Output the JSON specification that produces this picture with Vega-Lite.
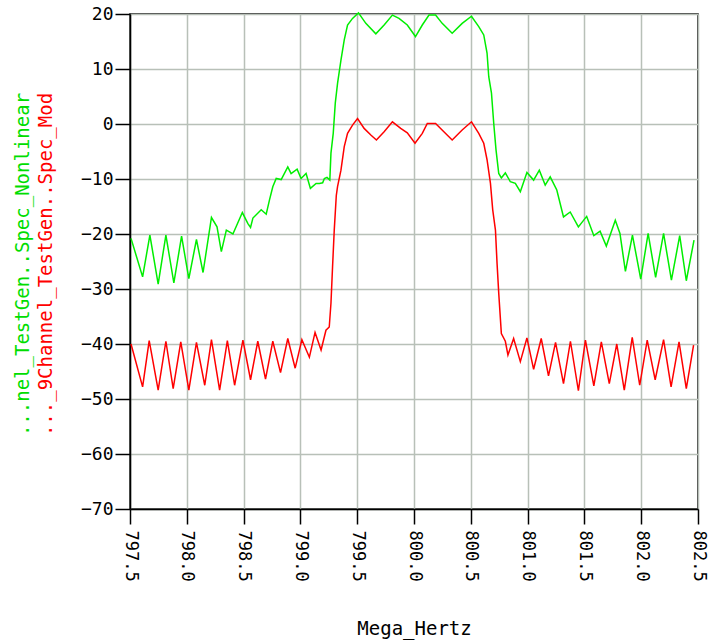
{
  "$schema": "https://vega.github.io/schema/vega-lite/v6.json",
  "width": 568,
  "height": 495,
  "autosize": {"type": "none"},
  "padding": {"left": 130, "top": 14, "right": 11, "bottom": 132},
  "background": "white",
  "config": {
    "font": "DejaVu Sans Mono",
    "view": {"stroke": "black", "strokeWidth": 1.5},
    "axis": {
      "domainColor": "black", "domainWidth": 1.5, "tickColor": "black", "tickWidth": 1.5,
      "labelColor": "black", "labelFont": "DejaVu Sans Mono", "titleFont": "DejaVu Sans Mono",
      "gridColor": "#b8c0b8", "gridWidth": 1.5, "gridOpacity": 1
    }
  },
  "data": {"values": [
    {"f": 797.509, "db": -40.0, "s": "Mod"},
    {"f": 797.611, "db": -47.8, "s": "Mod"},
    {"f": 797.669, "db": -39.4, "s": "Mod"},
    {"f": 797.748, "db": -48.4, "s": "Mod"},
    {"f": 797.816, "db": -39.5, "s": "Mod"},
    {"f": 797.880, "db": -48.1, "s": "Mod"},
    {"f": 797.947, "db": -39.6, "s": "Mod"},
    {"f": 798.018, "db": -48.4, "s": "Mod"},
    {"f": 798.085, "db": -39.7, "s": "Mod"},
    {"f": 798.158, "db": -47.5, "s": "Mod"},
    {"f": 798.217, "db": -39.2, "s": "Mod"},
    {"f": 798.289, "db": -48.4, "s": "Mod"},
    {"f": 798.357, "db": -39.4, "s": "Mod"},
    {"f": 798.421, "db": -47.5, "s": "Mod"},
    {"f": 798.494, "db": -39.3, "s": "Mod"},
    {"f": 798.561, "db": -46.5, "s": "Mod"},
    {"f": 798.625, "db": -39.5, "s": "Mod"},
    {"f": 798.693, "db": -46.4, "s": "Mod"},
    {"f": 798.757, "db": -39.5, "s": "Mod"},
    {"f": 798.825, "db": -45.2, "s": "Mod"},
    {"f": 798.889, "db": -39.0, "s": "Mod"},
    {"f": 798.954, "db": -44.4, "s": "Mod"},
    {"f": 799.013, "db": -39.2, "s": "Mod"},
    {"f": 799.079, "db": -42.4, "s": "Mod"},
    {"f": 799.129, "db": -37.9, "s": "Mod"},
    {"f": 799.182, "db": -41.1, "s": "Mod"},
    {"f": 799.225, "db": -37.5, "s": "Mod"},
    {"f": 799.254, "db": -36.9, "s": "Mod"},
    {"f": 799.269, "db": -32.6, "s": "Mod"},
    {"f": 799.283, "db": -26.0, "s": "Mod"},
    {"f": 799.298, "db": -19.3, "s": "Mod"},
    {"f": 799.316, "db": -13.0, "s": "Mod"},
    {"f": 799.327, "db": -11.4, "s": "Mod"},
    {"f": 799.357, "db": -8.4, "s": "Mod"},
    {"f": 799.386, "db": -4.1, "s": "Mod"},
    {"f": 799.415, "db": -1.7, "s": "Mod"},
    {"f": 799.459, "db": -0.2, "s": "Mod"},
    {"f": 799.503, "db": 1.0, "s": "Mod"},
    {"f": 799.561, "db": -0.8, "s": "Mod"},
    {"f": 799.620, "db": -2.0, "s": "Mod"},
    {"f": 799.669, "db": -2.9, "s": "Mod"},
    {"f": 799.737, "db": -1.4, "s": "Mod"},
    {"f": 799.810, "db": 0.4, "s": "Mod"},
    {"f": 799.883, "db": -0.8, "s": "Mod"},
    {"f": 799.941, "db": -1.6, "s": "Mod"},
    {"f": 800.009, "db": -3.5, "s": "Mod"},
    {"f": 800.073, "db": -1.7, "s": "Mod"},
    {"f": 800.117, "db": 0.1, "s": "Mod"},
    {"f": 800.190, "db": 0.1, "s": "Mod"},
    {"f": 800.263, "db": -1.4, "s": "Mod"},
    {"f": 800.336, "db": -2.9, "s": "Mod"},
    {"f": 800.424, "db": -1.1, "s": "Mod"},
    {"f": 800.506, "db": 0.4, "s": "Mod"},
    {"f": 800.570, "db": -1.7, "s": "Mod"},
    {"f": 800.614, "db": -3.5, "s": "Mod"},
    {"f": 800.643, "db": -6.5, "s": "Mod"},
    {"f": 800.673, "db": -10.8, "s": "Mod"},
    {"f": 800.693, "db": -15.6, "s": "Mod"},
    {"f": 800.717, "db": -19.3, "s": "Mod"},
    {"f": 800.731, "db": -25.3, "s": "Mod"},
    {"f": 800.746, "db": -30.8, "s": "Mod"},
    {"f": 800.769, "db": -38.1, "s": "Mod"},
    {"f": 800.804, "db": -39.5, "s": "Mod"},
    {"f": 800.827, "db": -42.0, "s": "Mod"},
    {"f": 800.877, "db": -39.0, "s": "Mod"},
    {"f": 800.936, "db": -43.2, "s": "Mod"},
    {"f": 800.994, "db": -38.9, "s": "Mod"},
    {"f": 801.053, "db": -44.6, "s": "Mod"},
    {"f": 801.120, "db": -39.0, "s": "Mod"},
    {"f": 801.184, "db": -45.8, "s": "Mod"},
    {"f": 801.246, "db": -39.7, "s": "Mod"},
    {"f": 801.316, "db": -47.2, "s": "Mod"},
    {"f": 801.377, "db": -39.5, "s": "Mod"},
    {"f": 801.447, "db": -48.5, "s": "Mod"},
    {"f": 801.509, "db": -39.3, "s": "Mod"},
    {"f": 801.583, "db": -47.6, "s": "Mod"},
    {"f": 801.649, "db": -39.6, "s": "Mod"},
    {"f": 801.719, "db": -47.2, "s": "Mod"},
    {"f": 801.785, "db": -40.0, "s": "Mod"},
    {"f": 801.851, "db": -48.4, "s": "Mod"},
    {"f": 801.921, "db": -38.8, "s": "Mod"},
    {"f": 801.987, "db": -47.5, "s": "Mod"},
    {"f": 802.053, "db": -39.3, "s": "Mod"},
    {"f": 802.123, "db": -46.5, "s": "Mod"},
    {"f": 802.197, "db": -39.2, "s": "Mod"},
    {"f": 802.263, "db": -47.8, "s": "Mod"},
    {"f": 802.333, "db": -39.6, "s": "Mod"},
    {"f": 802.397, "db": -48.1, "s": "Mod"},
    {"f": 802.461, "db": -40.2, "s": "Mod"},
    {"f": 797.509, "db": -20.8, "s": "Nonlinear"},
    {"f": 797.611, "db": -27.8, "s": "Nonlinear"},
    {"f": 797.675, "db": -20.2, "s": "Nonlinear"},
    {"f": 797.748, "db": -29.1, "s": "Nonlinear"},
    {"f": 797.816, "db": -20.2, "s": "Nonlinear"},
    {"f": 797.886, "db": -28.9, "s": "Nonlinear"},
    {"f": 797.954, "db": -20.4, "s": "Nonlinear"},
    {"f": 798.018, "db": -28.1, "s": "Nonlinear"},
    {"f": 798.085, "db": -21.0, "s": "Nonlinear"},
    {"f": 798.143, "db": -27.0, "s": "Nonlinear"},
    {"f": 798.217, "db": -17.0, "s": "Nonlinear"},
    {"f": 798.266, "db": -18.7, "s": "Nonlinear"},
    {"f": 798.304, "db": -23.2, "s": "Nonlinear"},
    {"f": 798.348, "db": -19.3, "s": "Nonlinear"},
    {"f": 798.406, "db": -20.0, "s": "Nonlinear"},
    {"f": 798.489, "db": -16.1, "s": "Nonlinear"},
    {"f": 798.538, "db": -18.1, "s": "Nonlinear"},
    {"f": 798.561, "db": -18.8, "s": "Nonlinear"},
    {"f": 798.582, "db": -17.1, "s": "Nonlinear"},
    {"f": 798.655, "db": -15.6, "s": "Nonlinear"},
    {"f": 798.699, "db": -16.4, "s": "Nonlinear"},
    {"f": 798.728, "db": -13.8, "s": "Nonlinear"},
    {"f": 798.757, "db": -11.4, "s": "Nonlinear"},
    {"f": 798.787, "db": -9.9, "s": "Nonlinear"},
    {"f": 798.831, "db": -10.1, "s": "Nonlinear"},
    {"f": 798.889, "db": -7.8, "s": "Nonlinear"},
    {"f": 798.918, "db": -9.0, "s": "Nonlinear"},
    {"f": 798.971, "db": -8.2, "s": "Nonlinear"},
    {"f": 799.006, "db": -9.9, "s": "Nonlinear"},
    {"f": 799.050, "db": -9.0, "s": "Nonlinear"},
    {"f": 799.088, "db": -11.7, "s": "Nonlinear"},
    {"f": 799.138, "db": -10.8, "s": "Nonlinear"},
    {"f": 799.167, "db": -10.8, "s": "Nonlinear"},
    {"f": 799.196, "db": -10.7, "s": "Nonlinear"},
    {"f": 799.211, "db": -9.9, "s": "Nonlinear"},
    {"f": 799.234, "db": -9.7, "s": "Nonlinear"},
    {"f": 799.259, "db": -10.2, "s": "Nonlinear"},
    {"f": 799.269, "db": -5.3, "s": "Nonlinear"},
    {"f": 799.289, "db": -1.7, "s": "Nonlinear"},
    {"f": 799.307, "db": 3.8, "s": "Nonlinear"},
    {"f": 799.327, "db": 7.4, "s": "Nonlinear"},
    {"f": 799.357, "db": 11.6, "s": "Nonlinear"},
    {"f": 799.386, "db": 15.3, "s": "Nonlinear"},
    {"f": 799.415, "db": 18.0, "s": "Nonlinear"},
    {"f": 799.459, "db": 19.2, "s": "Nonlinear"},
    {"f": 799.511, "db": 20.2, "s": "Nonlinear"},
    {"f": 799.576, "db": 18.3, "s": "Nonlinear"},
    {"f": 799.664, "db": 16.4, "s": "Nonlinear"},
    {"f": 799.737, "db": 18.0, "s": "Nonlinear"},
    {"f": 799.810, "db": 19.8, "s": "Nonlinear"},
    {"f": 799.868, "db": 19.2, "s": "Nonlinear"},
    {"f": 799.941, "db": 18.0, "s": "Nonlinear"},
    {"f": 800.013, "db": 15.9, "s": "Nonlinear"},
    {"f": 800.073, "db": 18.0, "s": "Nonlinear"},
    {"f": 800.132, "db": 19.8, "s": "Nonlinear"},
    {"f": 800.190, "db": 19.8, "s": "Nonlinear"},
    {"f": 800.248, "db": 18.3, "s": "Nonlinear"},
    {"f": 800.336, "db": 16.5, "s": "Nonlinear"},
    {"f": 800.424, "db": 18.3, "s": "Nonlinear"},
    {"f": 800.506, "db": 19.6, "s": "Nonlinear"},
    {"f": 800.570, "db": 17.7, "s": "Nonlinear"},
    {"f": 800.614, "db": 16.2, "s": "Nonlinear"},
    {"f": 800.643, "db": 12.9, "s": "Nonlinear"},
    {"f": 800.658, "db": 8.6, "s": "Nonlinear"},
    {"f": 800.682, "db": 5.6, "s": "Nonlinear"},
    {"f": 800.702, "db": 0.1, "s": "Nonlinear"},
    {"f": 800.722, "db": -4.7, "s": "Nonlinear"},
    {"f": 800.746, "db": -9.0, "s": "Nonlinear"},
    {"f": 800.769, "db": -9.8, "s": "Nonlinear"},
    {"f": 800.804, "db": -8.9, "s": "Nonlinear"},
    {"f": 800.848, "db": -10.5, "s": "Nonlinear"},
    {"f": 800.892, "db": -10.8, "s": "Nonlinear"},
    {"f": 800.936, "db": -12.3, "s": "Nonlinear"},
    {"f": 800.994, "db": -8.8, "s": "Nonlinear"},
    {"f": 801.053, "db": -10.2, "s": "Nonlinear"},
    {"f": 801.103, "db": -8.4, "s": "Nonlinear"},
    {"f": 801.155, "db": -11.1, "s": "Nonlinear"},
    {"f": 801.199, "db": -9.6, "s": "Nonlinear"},
    {"f": 801.257, "db": -12.0, "s": "Nonlinear"},
    {"f": 801.316, "db": -16.9, "s": "Nonlinear"},
    {"f": 801.375, "db": -16.0, "s": "Nonlinear"},
    {"f": 801.447, "db": -18.7, "s": "Nonlinear"},
    {"f": 801.520, "db": -16.8, "s": "Nonlinear"},
    {"f": 801.583, "db": -20.3, "s": "Nonlinear"},
    {"f": 801.638, "db": -19.5, "s": "Nonlinear"},
    {"f": 801.693, "db": -22.2, "s": "Nonlinear"},
    {"f": 801.772, "db": -17.5, "s": "Nonlinear"},
    {"f": 801.813, "db": -19.9, "s": "Nonlinear"},
    {"f": 801.861, "db": -26.8, "s": "Nonlinear"},
    {"f": 801.923, "db": -20.2, "s": "Nonlinear"},
    {"f": 801.996, "db": -28.2, "s": "Nonlinear"},
    {"f": 802.061, "db": -19.9, "s": "Nonlinear"},
    {"f": 802.127, "db": -27.9, "s": "Nonlinear"},
    {"f": 802.197, "db": -19.9, "s": "Nonlinear"},
    {"f": 802.266, "db": -28.4, "s": "Nonlinear"},
    {"f": 802.339, "db": -20.3, "s": "Nonlinear"},
    {"f": 802.397, "db": -28.5, "s": "Nonlinear"},
    {"f": 802.465, "db": -21.1, "s": "Nonlinear"}
  ]},
  "resolve": {"axis": {"y": "independent"}},
  "layer": [
    {
      "transform": [{"filter": "datum.s === 'Nonlinear'"}],
      "mark": {"type": "line", "color": "#00ee00", "strokeWidth": 1.5},
      "encoding": {
        "x": {"field": "f", "type": "quantitative",
          "scale": {"domain": [797.5, 802.5], "nice": false, "zero": false},
          "axis": {"values": [797.5, 798, 798.5, 799, 799.5, 800, 800.5, 801, 801.5, 802, 802.5],
            "format": ".1f", "labelAngle": 90, "labelAlign": "left", "labelBaseline": "middle",
            "tickSize": 15, "labelPadding": 6, "labelFontSize": 17, "labelFlush": false, "labelOverlap": false,
            "title": "Mega_Hertz", "titleFontSize": 19, "titleFontWeight": "normal", "titleColor": "black",
            "titleY": 119, "titleBaseline": "middle", "grid": true}},
        "y": {"field": "db", "type": "quantitative",
          "scale": {"domain": [-70, 20], "nice": false, "zero": false},
          "axis": {"orient": "left", "labels": false, "ticks": false, "domain": false, "grid": false,
            "title": "...nel_TestGen..Spec_Nonlinear", "titleColor": "#00dd00", "titleFontSize": 19,
            "titleFontWeight": "normal", "titleAngle": -90, "titleX": -108, "titleY": 250,
            "titleAlign": "center", "titleBaseline": "middle"}}
      }
    },
    {
      "transform": [{"filter": "datum.s === 'Mod'"}],
      "mark": {"type": "line", "color": "#ff0000", "strokeWidth": 1.5},
      "encoding": {
        "x": {"field": "f", "type": "quantitative",
          "scale": {"domain": [797.5, 802.5], "nice": false, "zero": false}},
        "y": {"field": "db", "type": "quantitative",
          "scale": {"domain": [-70, 20], "nice": false, "zero": false},
          "axis": {"orient": "left", "values": [-70, -60, -50, -40, -30, -20, -10, 0, 10, 20],
            "tickSize": 15, "labelPadding": 2, "labelFontSize": 18, "labelFlush": false, "labelOverlap": false,
            "grid": true,
            "title": "..._9Channel_TestGen..Spec_Mod", "titleColor": "#ff0000", "titleFontSize": 19,
            "titleFontWeight": "normal", "titleAngle": -90, "titleX": -85, "titleY": 250,
            "titleAlign": "center", "titleBaseline": "middle"}}
      }
    }
  ]
}
